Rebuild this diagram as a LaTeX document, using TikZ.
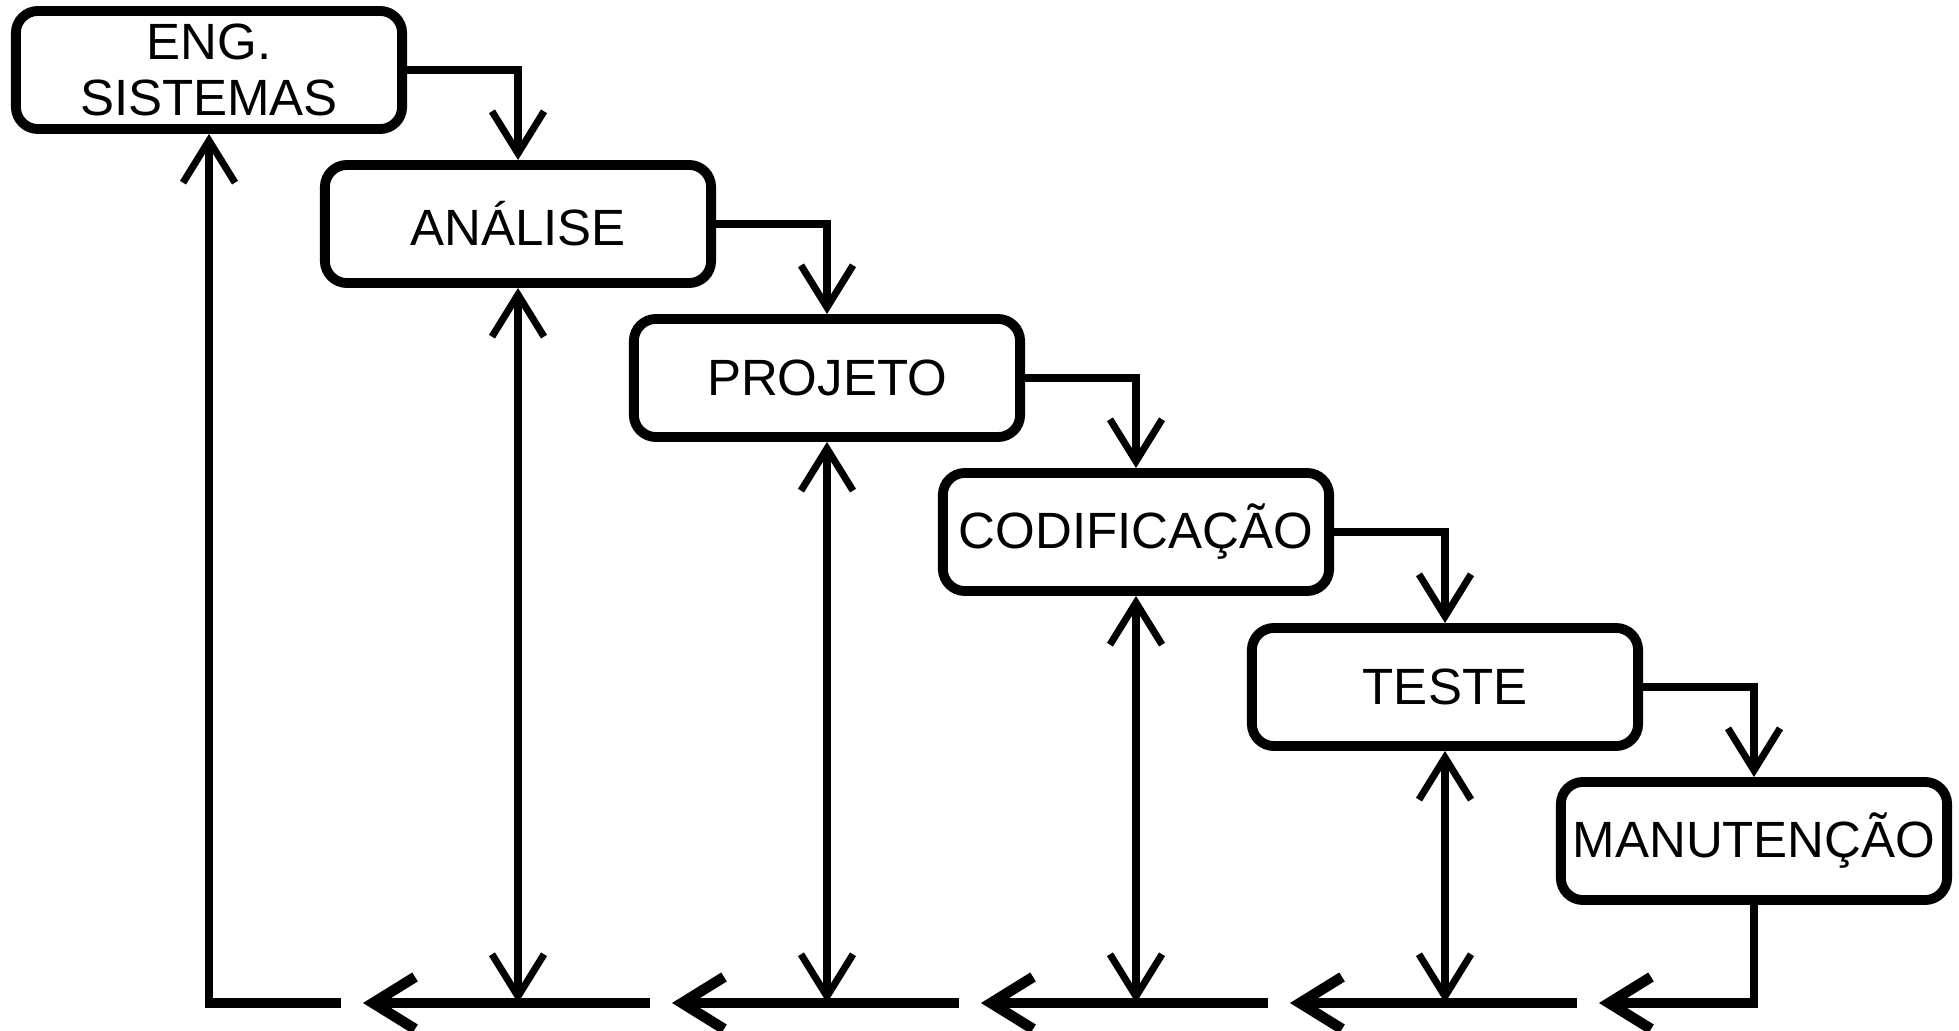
\documentclass[tikz,border=0pt]{standalone}
\usepackage{fontspec}
\setmainfont{Liberation Sans}
\usetikzlibrary{arrows.meta}
\begin{document}
\begin{tikzpicture}[x=0.01cm,y=-0.01cm,
  phase/.style={draw, line width=2.8pt, rounded corners=0.22cm,
    minimum width=3.86cm, minimum height=1.18cm, inner sep=0pt,
    align=center, font=\fontsize{14.5}{16}\selectfont},
  flow/.style={line width=2pt, line join=miter},
  base/.style={line width=3pt},
  barb/.tip={Straight Barb[length=0.42cm,width=0.52cm]},
  tip/.style={-barb},
  bothtips/.style={barb-barb}
]
\useasboundingbox (0,0) rectangle (1959,1031);

% phases of the waterfall
\node[phase] (s1) at (209,70)  {ENG.\\SISTEMAS};
\node[phase] (s2) at (518,224) {ANÁLISE};
\node[phase] (s3) at (827,378) {PROJETO};
\node[phase] (s4) at (1136,532) {CODIFICAÇÃO};
\node[phase] (s5) at (1445,687) {TESTE};
\node[phase] (s6) at (1754,841) {MANUTENÇÃO};

% forward steps
\draw[flow, tip] (s1.east) -| (s2.north);
\draw[flow, tip] (s2.east) -| (s3.north);
\draw[flow, tip] (s3.east) -| (s4.north);
\draw[flow, tip] (s4.east) -| (s5.north);
\draw[flow, tip] (s5.east) -| (s6.north);

% feedback bus along the bottom
\foreach \i/\x in {1/209,2/518,3/827,4/1136,5/1445,6/1754}
  \coordinate (b\i) at (\x,1003);
\foreach \i/\x in {1/363,2/672,3/981,4/1290,5/1599}{
  \coordinate (m\i) at (\x,1003);
  \coordinate (g\i) at (\x-22,1003);
}

\draw[flow] (s6.south) -- ([yshift=-1.5pt]b6);
\draw[base, tip] ([xshift=1pt]b6) -- (m5);
\draw[base, tip] (g5) -- (m4);
\draw[base, tip] (g4) -- (m3);
\draw[base, tip] (g3) -- (m2);
\draw[base, tip] (g2) -- (m1);
\draw[base] (g1) -- ([xshift=-1pt]b1);
\draw[flow, tip] ([yshift=-1.5pt]b1) -- (s1.south);

% return paths to each phase
\draw[flow, bothtips] (s2.south) -- (b2);
\draw[flow, bothtips] (s3.south) -- (b3);
\draw[flow, bothtips] (s4.south) -- (b4);
\draw[flow, bothtips] (s5.south) -- (b5);
\end{tikzpicture}
\end{document}
